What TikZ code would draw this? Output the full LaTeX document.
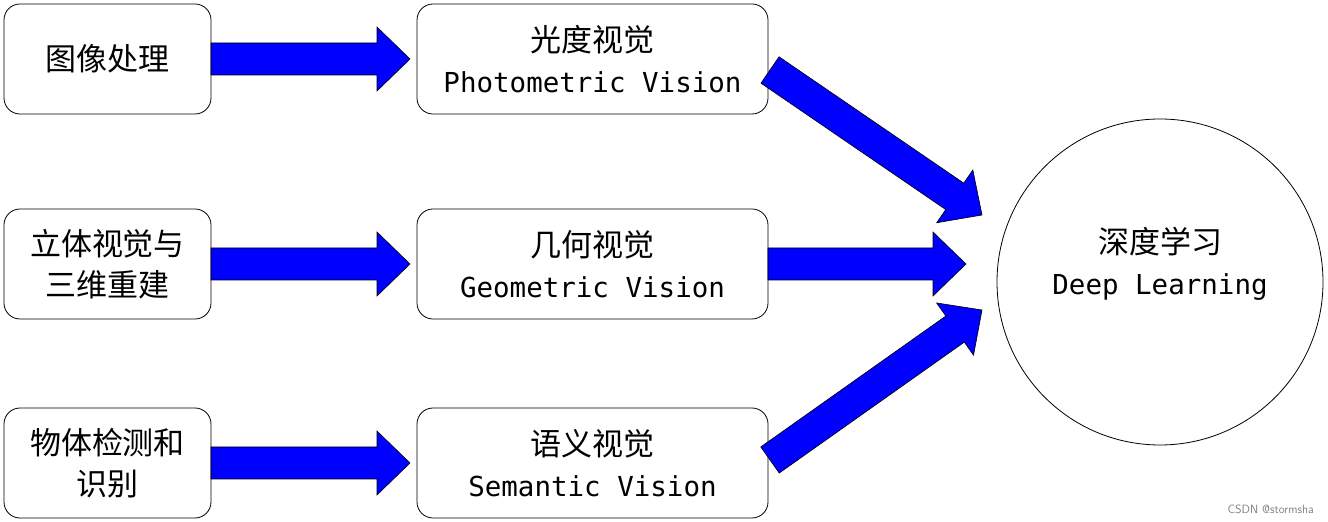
\documentclass[tikz,border=0pt]{standalone}
\usepackage{fontspec}
\newfontfamily\cjk{Noto Sans CJK SC}
\newfontfamily\enmono{DejaVu Sans Mono}
\usetikzlibrary{calc}
\tikzset{
 box/.style={draw,rounded corners=16pt,line width=0.8pt,minimum height=110pt,align=center,inner sep=0pt},
 lbox/.style={box,minimum width=207pt,font=\cjk\fontsize{31}{41}\selectfont},
 mbox/.style={box,minimum width=351pt,font=\fontsize{31}{41}\selectfont},
 barrow/.style={fill={rgb,255:red,0;green,0;blue,255},draw=black,line width=0.6pt}
}
\newcommand{\zh}[1]{{\cjk\fontsize{31}{41}\selectfont #1}}
\newcommand{\en}[1]{{\enmono\fontsize{27.5}{41}\selectfont #1}}
\newcommand{\blockarr}[2]{%
 \path let \p1=(#1), \p2=(#2), \n1={veclen(\x2-\x1,\y2-\y1)}, \n2={atan2(\y2-\y1,\x2-\x1)} in
 [barrow] ([shift={(\p1)}]\n2:0pt) ++(\n2-90:16pt) -- ++(\n2:\n1-33pt) -- ++(\n2-90:16pt) -- ($(\p2)$) -- ($(\p1)+(\n2:\n1-33pt)+(\n2+90:32pt)$) -- ++(\n2-90:16pt) -- ($(\p1)+(\n2+90:16pt)$) -- cycle;}
\begin{document}
\begin{tikzpicture}[x=1pt,y=1pt]
\useasboundingbox (0,0) rectangle (1328,522);
\node[lbox] (a1) at (107.5,463) {图像处理};
\node[lbox] (a2) at (107.5,258) {立体视觉与\\三维重建};
\node[lbox] (a3) at (107.5,59) {物体检测和\\识别};
\node[mbox] (b1) at (592.5,463) {\zh{光度视觉}\\\en{Photometric Vision}};
\node[mbox] (b2) at (592.5,258) {\zh{几何视觉}\\\en{Geometric Vision}};
\node[mbox] (b3) at (592.5,59) {\zh{语义视觉}\\\en{Semantic Vision}};
\node[draw,circle,line width=0.8pt,minimum size=326pt,inner sep=0pt] (c) at (1160,240) {};
\node[align=center,inner sep=0pt,font=\fontsize{31}{41}\selectfont] (ct) at (1160,258) {\zh{深度学习}\\\en{Deep Learning}};
\coordinate (a1e) at (211,463); \coordinate (b1w) at (410,463);
\coordinate (a2e) at (211,258); \coordinate (b2w) at (410,258);
\coordinate (a3e) at (211,59);  \coordinate (b3w) at (410,59);
\coordinate (b1e) at (770,452); \coordinate (t1) at (982,307);
\coordinate (b2e) at (768,258); \coordinate (t2) at (966,258);
\coordinate (b3e) at (770,62);  \coordinate (t3) at (982,212);
\blockarr{a1e}{b1w}
\blockarr{a2e}{b2w}
\blockarr{a3e}{b3w}
\blockarr{b1e}{t1}
\blockarr{b2e}{t2}
\blockarr{b3e}{t3}
\node[anchor=south east,text=gray,font=\fontsize{12}{14}\selectfont\sffamily,inner sep=2pt] (wm) at (1316,6) {CSDN @stormsha};
\end{tikzpicture}
\end{document}
